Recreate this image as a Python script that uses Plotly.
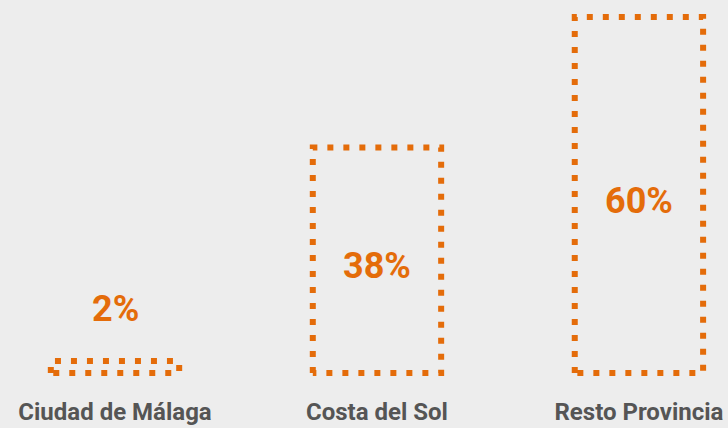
import plotly.graph_objects as go

categories = ["Ciudad de Málaga", "Costa del Sol", "Resto Provincia"]
values = [2, 38, 60]
labels = ["2%", "38%", "60%"]

ORANGE = "#e46c0a"
GREY = "#555555"
BG = "#ededed"

half = 0.245  # half of bar width, in category units

fig = go.Figure()

for i, (cat, v, lab) in enumerate(zip(categories, values, labels)):
    # dotted outline of the bar
    fig.add_trace(go.Scatter(
        x=[i - half, i - half, i + half, i + half, i - half],
        y=[0, v, v, 0, 0],
        mode="lines",
        line=dict(color=ORANGE, width=6, dash="6px,10px"),
        hoverinfo="skip",
        cliponaxis=False,
        showlegend=False,
    ))
    # value label: inside tall bars, above short ones
    if v < 10:
        fig.add_annotation(x=i, y=v, text=f"<b>{lab}</b>", showarrow=False,
                           yshift=52, font=dict(size=36, color=ORANGE, family="Roboto"))
    else:
        fig.add_annotation(x=i, y=v / 2, text=f"<b>{lab}</b>", showarrow=False,
                           yshift=-6, font=dict(size=36, color=ORANGE, family="Roboto"))

fig.update_xaxes(
    range=[-0.439, 2.34],
    tickvals=list(range(len(categories))),
    ticktext=[f"<b>{c}</b>" for c in categories],
    tickfont=dict(size=24, color=GREY, family="Roboto"),
    ticklabelstandoff=12,
    showgrid=False, zeroline=False, showline=False, ticks="",
    fixedrange=True,
)
fig.update_yaxes(
    range=[-1.69, 62.87],
    visible=False, showgrid=False, zeroline=False,
    fixedrange=True,
)

fig.update_layout(
    width=728, height=428,
    margin=dict(l=0, r=0, t=0, b=45),
    paper_bgcolor=BG, plot_bgcolor=BG,
    showlegend=False,
)

fig.write_html("out.html", config={"displayModeBar": False},
               post_script="document.body.style.margin='0';")
